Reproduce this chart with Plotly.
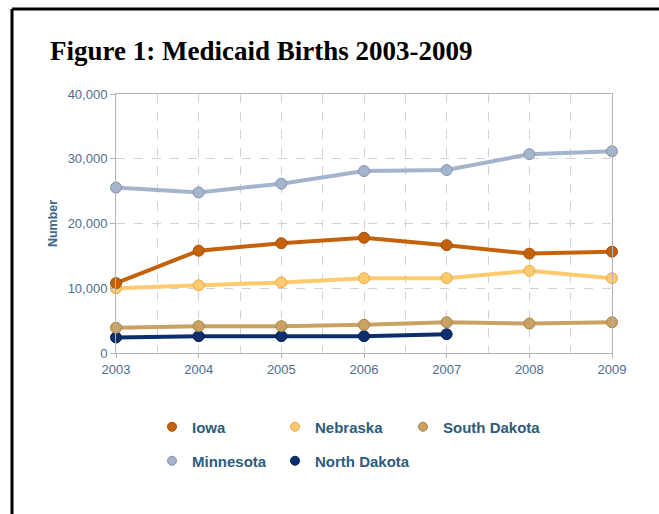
import plotly.graph_objects as go

years = [2003, 2004, 2005, 2006, 2007, 2008, 2009]
iowa = [10800, 15800, 16950, 17800, 16650, 15350, 15650]
nebraska = [10000, 10450, 10900, 11550, 11550, 12700, 11550]
south_dakota = [3900, 4150, 4150, 4350, 4750, 4550, 4750]
minnesota = [25550, 24800, 26150, 28100, 28250, 30700, 31150]
north_dakota_years = [2003, 2004, 2005, 2006, 2007]
north_dakota = [2400, 2600, 2600, 2600, 2900]

series = [
    ("Iowa", years, iowa, "#c4620c", "#a24d02"),
    ("Nebraska", years, nebraska, "#fdcb6e", "#e3aa45"),
    ("South Dakota", years, south_dakota, "#c9a263", "#a8834a"),
    ("Minnesota", years, minnesota, "#a4b4cd", "#8495b0"),
    ("North Dakota", north_dakota_years, north_dakota, "#0b2f6d", "#06204f"),
]
# legend marker centre positions (px) for each entry
legend_pos = {
    "Iowa": (177, 427),
    "Nebraska": (300, 427),
    "South Dakota": (428, 427),
    "Minnesota": (177, 461),
    "North Dakota": (300, 461),
}

draw_order = ["North Dakota", "South Dakota", "Nebraska", "Iowa", "Minnesota"]

W, H = 659, 514
axis_col = "#4b6e8e"
grid_col = "#d2d2d2"
line_col = "#b4b4b4"
legend_font = dict(family="Liberation Sans, Arial, sans-serif", size=15, color="#2e5b7c", weight="bold")

fig = go.Figure()
lookup = {s[0]: s for s in series}
for name in draw_order:
    n, xs, ys, col, edge = lookup[name]
    fig.add_trace(go.Scatter(
        x=xs, y=ys, mode="lines+markers", name=n, showlegend=False,
        line=dict(color=col, width=4),
        marker=dict(size=11, color=col, line=dict(color=edge, width=1)),
        cliponaxis=False,
    ))

legends = {}
for i, (n, xs, ys, col, edge) in enumerate(series):
    lname = "legend" if i == 0 else f"legend{i + 1}"
    fig.add_trace(go.Scatter(
        x=[None], y=[None], mode="markers", name=n, legend=lname,
        marker=dict(size=9, color=col, line=dict(color=edge, width=1)),
    ))
    px, py = legend_pos[n]
    legends[lname] = dict(
        orientation="h", xref="container", yref="container",
        x=(px - 25) / W, y=1 - py / H, xanchor="left", yanchor="middle",
        font=legend_font, bgcolor="rgba(0,0,0,0)",
    )

fig.update_layout(
    width=W, height=H,
    margin=dict(l=116, r=47, t=94, b=161),
    paper_bgcolor="white", plot_bgcolor="white",
    font=dict(family="Liberation Sans, Arial, sans-serif", size=13, color=axis_col),
    title=dict(
        text="<b>Figure 1: Medicaid Births 2003-2009</b>",
        font=dict(family="Liberation Serif, Times New Roman, serif", size=27, color="black"),
        x=50 / W, xanchor="left", xref="container",
        y=1 - 51 / H, yanchor="middle", yref="container",
    ),
    xaxis=dict(
        range=[2003, 2009], tickvals=years, ticktext=[str(y) for y in years],
        showgrid=True, gridcolor=grid_col, griddash="dash", gridwidth=1,
        minor=dict(dtick=0.5, tick0=2003, showgrid=True, gridcolor=grid_col, griddash="dash"),
        showline=True, linecolor=line_col, linewidth=1, mirror=True,
        ticks="outside", ticklen=4, tickcolor=line_col,
        tickfont=dict(size=13, color=axis_col), zeroline=False,
    ),
    yaxis=dict(
        range=[0, 40000], dtick=10000, tickformat=",",
        showgrid=True, gridcolor=grid_col, griddash="dash", gridwidth=1,
        showline=True, linecolor=line_col, linewidth=1, mirror=True,
        ticks="outside", ticklen=5, tickcolor=line_col,
        tickfont=dict(size=13, color=axis_col), zeroline=False,
        title=dict(text="<b>Number</b>", font=dict(size=12.5, color="#3e6687"), standoff=7),
    ),
    showlegend=True,
    **legends,
)

# page frame: top and left border lines
top_y = (H - 9 - 161) / 259
left_x = (12 - 116) / 496
fig.add_shape(type="line", xref="paper", yref="paper",
              x0=left_x, x1=(700 - 116) / 496, y0=top_y, y1=top_y,
              line=dict(color="black", width=3))
fig.add_shape(type="line", xref="paper", yref="paper",
              x0=left_x, x1=left_x, y0=top_y, y1=(H - 600 - 161) / 259,
              line=dict(color="black", width=3))

fig.write_html("out.html")
